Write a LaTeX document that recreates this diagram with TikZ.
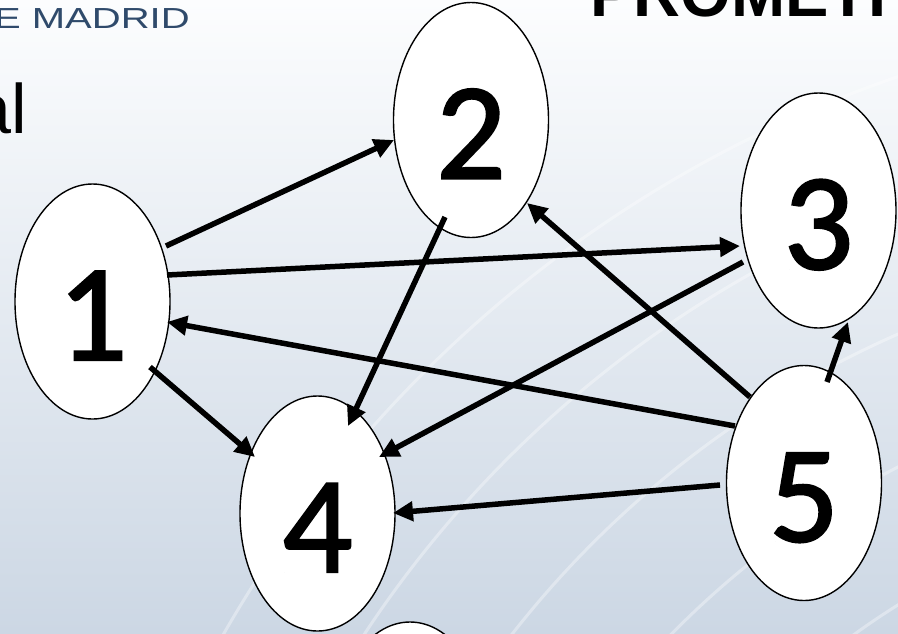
\documentclass[tikz,border=0pt]{standalone}
\usepackage{fontspec}
\setmainfont{Carlito}
\newfontfamily\digitfont[FakeBold=1.6]{Carlito}
\newfontfamily\arialfont{Liberation Sans}
\usetikzlibrary{arrows.meta,calc,shapes.geometric}
\definecolor{bgtop}{HTML}{FCFDFE}
\definecolor{bgmid}{HTML}{EAEEF3}
\definecolor{bgbot}{HTML}{CCD7E4}
\definecolor{madrid}{HTML}{2F4A6B}
\begin{document}
\begin{tikzpicture}[x=1pt,y=-1pt,
  state/.style={ellipse, draw=black, line width=1.4pt, fill=white,
    minimum width=155pt, minimum height=235pt, inner sep=0pt, outer sep=0pt,
    text height=117pt, text depth=0pt, font=\digitfont\fontsize{138}{138}\selectfont},
  link/.style={line width=5.5pt, -{Triangle[length=20pt,width=19pt]}},
  arc/.style={white, opacity=0.35, line width=3pt}]
\clip (0,0) rectangle (898,633);
\shade[top color=bgtop, middle color=bgmid, bottom color=bgbot] (0,0) rectangle (898,633);
\foreach \r in {760,880,1000,1120,1240}
  \draw[arc] (1300,1250) circle (\r pt);
% header texts
\node[anchor=base east, inner sep=0pt, text=madrid, font=\arialfont\fontsize{29}{29}\selectfont] (madrid) at (190,28) {\scalebox{1.38}[1]{DE MADRID}};
\node[anchor=base east, inner sep=0pt, font=\arialfont\fontsize{70}{70}\selectfont] (al) at (27,133) {al};
\node[anchor=base west, inner sep=0pt, font=\arialfont\bfseries\fontsize{65}{65}\selectfont] (title) at (590,16) {PROMETH};
% states
\node[state] (n1) at (92.5,301.5) {1};
\node[state] (n2) at (471,120) {2};
\node[state] (n3) at (818.5,210.5) {3};
\node[state] (n4) at (317.5,513.5) {4};
\node[state] (n5) at (804,483) {5};
\node[state] (n6) at (410,739.5) {};
% links
\draw[link] ($(n1)+(73.5,-55.5)$) -- ($(n2)+(-77,20)$);
\draw[link] ($(n1)+(74.5,-26.5)$) -- ($(n3)+(-78.5,35.5)$);
\draw[link] ($(n5)+(-69,-57)$) -- ($(n1)+(74.5,20.5)$);
\draw[link] ($(n1)+(57.5,65.5)$) -- ($(n4)+(-62.5,-56.5)$);
\draw[link] ($(n2)+(-26,97)$) -- ($(n4)+(30.5,-87.5)$);
\draw[link] ($(n3)+(-75.5,51.5)$) -- ($(n4)+(61.5,-56.5)$);
\draw[link] ($(n5)+(-54,-86)$) -- ($(n2)+(56,83)$);
\draw[link] ($(n5)+(-84,2)$) -- ($(n4)+(75.5,-0.5)$);
\draw[link] ($(n5)+(23,-101)$) -- ($(n3)+(29.5,111.5)$);
\end{tikzpicture}
\end{document}
